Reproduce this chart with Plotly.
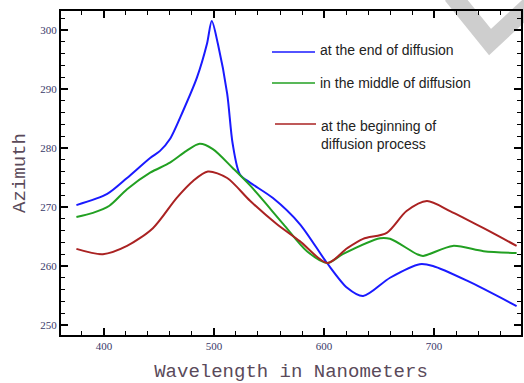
import plotly.graph_objects as go

# Data
blue_x = [375, 403, 421, 442, 451, 460, 472, 484.5, 493.6, 498, 503.6, 512, 517, 523.6, 533, 553.6, 578, 602.7, 621, 635.5, 660, 687, 699, 730, 775]
blue_y = [270.3, 272.2, 274.9, 278.3, 279.5, 281.5, 286.3, 291.9, 297.6, 301.5, 297.6, 289.2, 280.7, 275.5, 274.1, 271.5, 267.1, 260.5, 256.3, 254.9, 258, 260.3, 260, 257.5, 253.2]

green_x = [375, 390, 405, 421, 442, 460, 475, 487, 499, 517, 533, 563, 584.5, 603, 617, 651, 660, 684.5, 690, 717, 745, 775]
green_y = [268.3, 269, 270.2, 273, 275.8, 277.5, 279.5, 280.7, 279.8, 276.6, 273.6, 267.1, 262.5, 260.5, 262, 264.7, 264.6, 262, 261.7, 263.4, 262.5, 262.2]

red_x = [375, 399, 421, 444.5, 466, 481, 494.5, 512, 533, 557, 578, 603, 621, 635.5, 657, 675, 693.5, 714.5, 745, 775]
red_y = [262.9, 262, 263.4, 266.4, 271.5, 274.4, 276, 274.9, 271, 267.1, 264.2, 260.5, 263, 264.6, 265.6, 269.3, 271, 269.3, 266.4, 263.4]

names = ["at the end of diffusion", "in the middle of diffusion", "at the beginning of<br>diffusion process"]
colors = ["#1a1aff", "#22a022", "#aa2222"]

W, H = 524, 383
L, R, T, B = 61, 521, 11, 335

def px(x):
    return (x - L) / (R - L)

def py(y):
    return (B - y) / (B - T)

fig = go.Figure()
for xs, ys, c, n in [(blue_x, blue_y, colors[0], names[0]),
                     (green_x, green_y, colors[1], names[1]),
                     (red_x, red_y, colors[2], names[2])]:
    fig.add_trace(go.Scatter(x=xs, y=ys, mode="lines", name=n,
                             line=dict(color=c, width=2, shape="spline", smoothing=0.8),
                             showlegend=False))

shapes = []
annotations = []
# watermark-like gray shape at the top right
shapes.append(dict(type="path", xref="paper", yref="paper",
                   path=f"M {px(452)} {py(-5)} L {px(490)} {py(42)} L {px(530)} {py(5)}",
                   line=dict(color="rgba(185,185,185,0.7)", width=18), layer="below"))
# legend
leg = [(52, 50, 272, 315), (83, 83, 272, 315), (124, 135, 275, 316)]
for (ly, ty, x0, x1), c, n in zip(leg, colors, names):
    shapes.append(dict(type="line", xref="paper", yref="paper",
                       x0=px(x0), x1=px(x1), y0=py(ly), y1=py(ly),
                       line=dict(color=c, width=1.3)))
    annotations.append(dict(xref="paper", yref="paper", x=px(x1 + 3), y=py(ty),
                            text=n, showarrow=False, xanchor="left", yanchor="middle",
                            align="left",
                            font=dict(family="Liberation Sans, Arial", size=14, color="#222")))

axis_common = dict(ticks="inside", ticklen=7, tickwidth=1.5, tickcolor="black",
                   showline=True, linecolor="black", linewidth=2, mirror="ticks",
                   showgrid=False, zeroline=False, automargin=False,
                   tickfont=dict(family="Liberation Serif", size=11, color="#3a3a6a"))

fig.update_layout(
    width=W, height=H,
    margin=dict(l=L, r=W - R, t=T, b=H - B),
    paper_bgcolor="white", plot_bgcolor="white",
    shapes=shapes, annotations=annotations,
    xaxis=dict(range=[361, 779], tickvals=[400, 500, 600, 700],
               minor=dict(dtick=20, tick0=400, ticks="inside", ticklen=4, tickwidth=1.2, tickcolor="black"),
               title=dict(text="Wavelength in Nanometers", standoff=12,
                          font=dict(family="Liberation Mono, Courier New", size=19, color="#5a4a5a")),
               **axis_common),
    yaxis=dict(range=[248.3, 303.2], tickvals=[250, 260, 270, 280, 290, 300],
               minor=dict(dtick=2, tick0=250, ticks="inside", ticklen=4, tickwidth=1.2, tickcolor="black"),
               title=dict(text="Azimuth", standoff=10,
                          font=dict(family="Liberation Mono, Courier New", size=19, color="#5a4a5a")),
               **axis_common),
)

fig.write_html("out.html", config={"displayModeBar": False},
               post_script="document.body.style.margin='0';document.body.style.overflow='hidden';")
